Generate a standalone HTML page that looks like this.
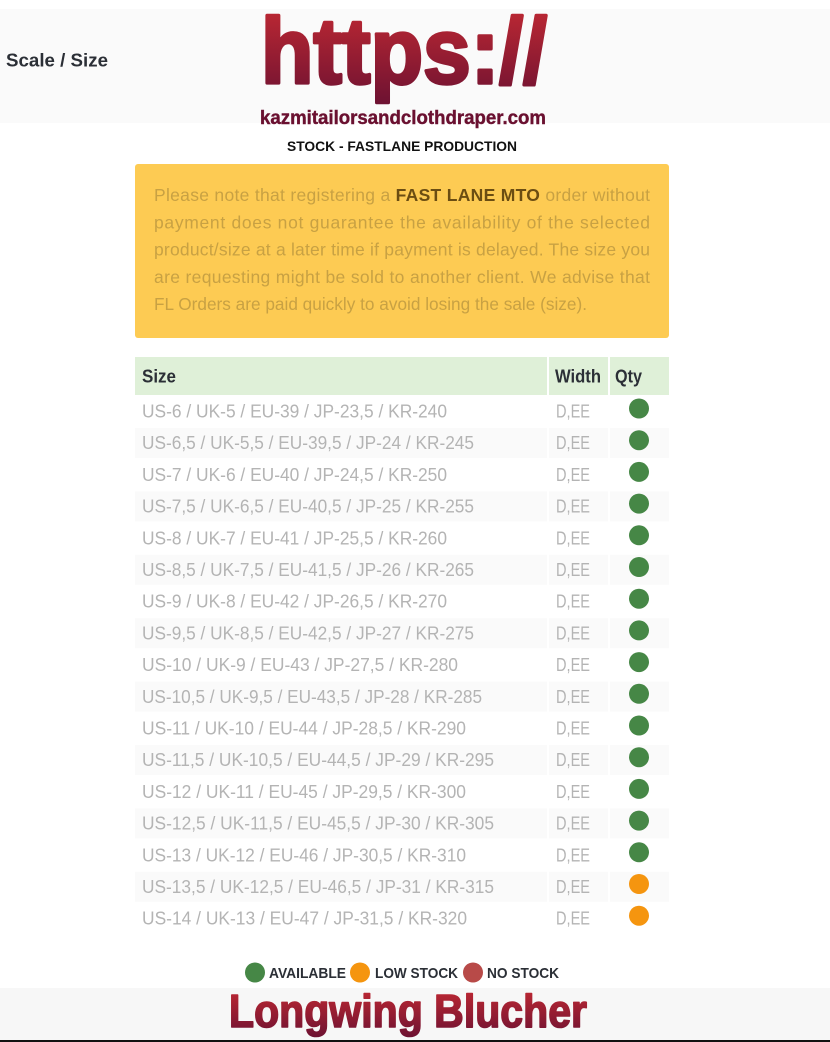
<!DOCTYPE html>
<html><head><meta charset="utf-8"><style>
html,body{margin:0;padding:0;background:#fff;}
svg{display:block;}
text{font-family:"Liberation Sans",sans-serif;}
</style></head><body>
<svg width="830" height="1042" viewBox="0 0 830 1042" xmlns="http://www.w3.org/2000/svg">
<defs>
<linearGradient id="g1" x1="0" y1="0" x2="0" y2="1">
<stop offset="0" stop-color="#c42a33"/><stop offset="1" stop-color="#6e1232"/>
</linearGradient>
</defs>
<rect x="0" y="0" width="830" height="1042" fill="#ffffff"/>
<rect x="0" y="9" width="830" height="114" fill="#fafafa"/>
<text x="6" y="66.5" font-size="18" font-weight="bold" fill="#2b2f36" textLength="102" lengthAdjust="spacingAndGlyphs">Scale / Size</text>
<text x="261" y="83" font-size="93" font-weight="bold" fill="url(#g1)" stroke="url(#g1)" stroke-width="3.5" stroke-linejoin="round" textLength="286" lengthAdjust="spacingAndGlyphs">https://</text>
<text x="260" y="124" font-size="19" font-weight="bold" fill="#6a1030" stroke="#6a1030" stroke-width="0.4" textLength="286" lengthAdjust="spacingAndGlyphs">kazmitailorsandclothdraper.com</text>
<text x="287" y="151" font-size="14" font-weight="bold" fill="#111" textLength="230" lengthAdjust="spacingAndGlyphs">STOCK - FASTLANE PRODUCTION</text>

<rect x="135" y="164" width="534" height="174" rx="3" fill="#fdcb53"/>
<g font-size="17.5" fill="#c8a143">
<text x="154" y="201" textLength="496" lengthAdjust="spacing">Please note that registering a <tspan font-weight="bold" fill="#6b4d12">FAST LANE MTO</tspan> order without</text>
<text x="154" y="228.3" textLength="496" lengthAdjust="spacing">payment does not guarantee the availability of the selected</text>
<text x="154" y="255.6" textLength="496" lengthAdjust="spacing">product/size at a later time if payment is delayed. The size you</text>
<text x="154" y="282.9" textLength="496" lengthAdjust="spacing">are requesting might be sold to another client. We advise that</text>
<text x="154" y="310.2" textLength="433" lengthAdjust="spacingAndGlyphs">FL Orders are paid quickly to avoid losing the sale (size).</text>
</g>

<rect x="135" y="357" width="412" height="38" fill="#dff0d8"/>
<rect x="549" y="357" width="59" height="38" fill="#dff0d8"/>
<rect x="610" y="357" width="59" height="38" fill="#dff0d8"/>
<g font-size="18" font-weight="bold" fill="#2b2f36">
<text x="142" y="382.5" textLength="34" lengthAdjust="spacingAndGlyphs">Size</text>
<text x="555" y="382.5" textLength="46" lengthAdjust="spacingAndGlyphs">Width</text>
<text x="615" y="382.5" textLength="27" lengthAdjust="spacingAndGlyphs">Qty</text>
</g>

<g fill="#fafafa">
<rect x="135" y="428" width="412" height="30"/><rect x="549" y="428" width="59" height="30"/><rect x="610" y="428" width="59" height="30"/>
<rect x="135" y="491.4" width="412" height="30"/><rect x="549" y="491.4" width="59" height="30"/><rect x="610" y="491.4" width="59" height="30"/>
<rect x="135" y="554.8" width="412" height="30"/><rect x="549" y="554.8" width="59" height="30"/><rect x="610" y="554.8" width="59" height="30"/>
<rect x="135" y="618.2" width="412" height="30"/><rect x="549" y="618.2" width="59" height="30"/><rect x="610" y="618.2" width="59" height="30"/>
<rect x="135" y="681.6" width="412" height="30"/><rect x="549" y="681.6" width="59" height="30"/><rect x="610" y="681.6" width="59" height="30"/>
<rect x="135" y="745" width="412" height="30"/><rect x="549" y="745" width="59" height="30"/><rect x="610" y="745" width="59" height="30"/>
<rect x="135" y="808.4" width="412" height="30"/><rect x="549" y="808.4" width="59" height="30"/><rect x="610" y="808.4" width="59" height="30"/>
<rect x="135" y="871.8" width="412" height="30"/><rect x="549" y="871.8" width="59" height="30"/><rect x="610" y="871.8" width="59" height="30"/>
</g>

<g font-size="18" fill="#b4b4b4">
<text x="142" y="417.5" textLength="305" lengthAdjust="spacingAndGlyphs">US-6 / UK-5 / EU-39 / JP-23,5 / KR-240</text>
<text x="142" y="449.2" textLength="332" lengthAdjust="spacingAndGlyphs">US-6,5 / UK-5,5 / EU-39,5 / JP-24 / KR-245</text>
<text x="142" y="480.9" textLength="305" lengthAdjust="spacingAndGlyphs">US-7 / UK-6 / EU-40 / JP-24,5 / KR-250</text>
<text x="142" y="512.6" textLength="332" lengthAdjust="spacingAndGlyphs">US-7,5 / UK-6,5 / EU-40,5 / JP-25 / KR-255</text>
<text x="142" y="544.3" textLength="305" lengthAdjust="spacingAndGlyphs">US-8 / UK-7 / EU-41 / JP-25,5 / KR-260</text>
<text x="142" y="576" textLength="332" lengthAdjust="spacingAndGlyphs">US-8,5 / UK-7,5 / EU-41,5 / JP-26 / KR-265</text>
<text x="142" y="607.7" textLength="305" lengthAdjust="spacingAndGlyphs">US-9 / UK-8 / EU-42 / JP-26,5 / KR-270</text>
<text x="142" y="639.4" textLength="332" lengthAdjust="spacingAndGlyphs">US-9,5 / UK-8,5 / EU-42,5 / JP-27 / KR-275</text>
<text x="142" y="671.1" textLength="316" lengthAdjust="spacingAndGlyphs">US-10 / UK-9 / EU-43 / JP-27,5 / KR-280</text>
<text x="142" y="702.8" textLength="340" lengthAdjust="spacingAndGlyphs">US-10,5 / UK-9,5 / EU-43,5 / JP-28 / KR-285</text>
<text x="142" y="734.5" textLength="324" lengthAdjust="spacingAndGlyphs">US-11 / UK-10 / EU-44 / JP-28,5 / KR-290</text>
<text x="142" y="766.2" textLength="352" lengthAdjust="spacingAndGlyphs">US-11,5 / UK-10,5 / EU-44,5 / JP-29 / KR-295</text>
<text x="142" y="797.9" textLength="324" lengthAdjust="spacingAndGlyphs">US-12 / UK-11 / EU-45 / JP-29,5 / KR-300</text>
<text x="142" y="829.6" textLength="352" lengthAdjust="spacingAndGlyphs">US-12,5 / UK-11,5 / EU-45,5 / JP-30 / KR-305</text>
<text x="142" y="861.3" textLength="324" lengthAdjust="spacingAndGlyphs">US-13 / UK-12 / EU-46 / JP-30,5 / KR-310</text>
<text x="142" y="893" textLength="352" lengthAdjust="spacingAndGlyphs">US-13,5 / UK-12,5 / EU-46,5 / JP-31 / KR-315</text>
<text x="142" y="924.7" textLength="325" lengthAdjust="spacingAndGlyphs">US-14 / UK-13 / EU-47 / JP-31,5 / KR-320</text>
</g>
<g font-size="18" fill="#b4b4b4">
<text x="556" y="417.5" textLength="34" lengthAdjust="spacingAndGlyphs">D,EE</text>
<text x="556" y="449.2" textLength="34" lengthAdjust="spacingAndGlyphs">D,EE</text>
<text x="556" y="480.9" textLength="34" lengthAdjust="spacingAndGlyphs">D,EE</text>
<text x="556" y="512.6" textLength="34" lengthAdjust="spacingAndGlyphs">D,EE</text>
<text x="556" y="544.3" textLength="34" lengthAdjust="spacingAndGlyphs">D,EE</text>
<text x="556" y="576" textLength="34" lengthAdjust="spacingAndGlyphs">D,EE</text>
<text x="556" y="607.7" textLength="34" lengthAdjust="spacingAndGlyphs">D,EE</text>
<text x="556" y="639.4" textLength="34" lengthAdjust="spacingAndGlyphs">D,EE</text>
<text x="556" y="671.1" textLength="34" lengthAdjust="spacingAndGlyphs">D,EE</text>
<text x="556" y="702.8" textLength="34" lengthAdjust="spacingAndGlyphs">D,EE</text>
<text x="556" y="734.5" textLength="34" lengthAdjust="spacingAndGlyphs">D,EE</text>
<text x="556" y="766.2" textLength="34" lengthAdjust="spacingAndGlyphs">D,EE</text>
<text x="556" y="797.9" textLength="34" lengthAdjust="spacingAndGlyphs">D,EE</text>
<text x="556" y="829.6" textLength="34" lengthAdjust="spacingAndGlyphs">D,EE</text>
<text x="556" y="861.3" textLength="34" lengthAdjust="spacingAndGlyphs">D,EE</text>
<text x="556" y="893" textLength="34" lengthAdjust="spacingAndGlyphs">D,EE</text>
<text x="556" y="924.7" textLength="34" lengthAdjust="spacingAndGlyphs">D,EE</text>
</g>
<g fill="#468746">
<circle cx="639" cy="408.5" r="10"/><circle cx="639" cy="440.2" r="10"/><circle cx="639" cy="471.9" r="10"/>
<circle cx="639" cy="503.6" r="10"/><circle cx="639" cy="535.3" r="10"/><circle cx="639" cy="567" r="10"/>
<circle cx="639" cy="598.7" r="10"/><circle cx="639" cy="630.4" r="10"/><circle cx="639" cy="662.1" r="10"/>
<circle cx="639" cy="693.8" r="10"/><circle cx="639" cy="725.5" r="10"/><circle cx="639" cy="757.2" r="10"/>
<circle cx="639" cy="788.9" r="10"/><circle cx="639" cy="820.6" r="10"/><circle cx="639" cy="852.3" r="10"/>
</g>
<g fill="#f5950f">
<circle cx="639" cy="884" r="10"/><circle cx="639" cy="915.7" r="10"/>
</g>

<circle cx="255" cy="972.5" r="10" fill="#468746"/>
<circle cx="360" cy="972.5" r="10" fill="#f5950f"/>
<circle cx="473" cy="972.5" r="10" fill="#b84a48"/>
<g font-size="15" font-weight="bold" fill="#2b2f36">
<text x="269" y="978" textLength="77" lengthAdjust="spacingAndGlyphs">AVAILABLE</text>
<text x="375" y="978" textLength="83" lengthAdjust="spacingAndGlyphs">LOW STOCK</text>
<text x="487" y="978" textLength="72" lengthAdjust="spacingAndGlyphs">NO STOCK</text>
</g>

<rect x="0" y="988" width="830" height="52" fill="#f7f7f7"/>
<text x="229" y="1027" font-size="46" font-weight="bold" fill="url(#g1)" stroke="url(#g1)" stroke-width="1.6" stroke-linejoin="round" textLength="358" lengthAdjust="spacingAndGlyphs">Longwing Blucher</text>
<rect x="0" y="1040" width="830" height="2" fill="#111"/>
</svg>
</body></html>
